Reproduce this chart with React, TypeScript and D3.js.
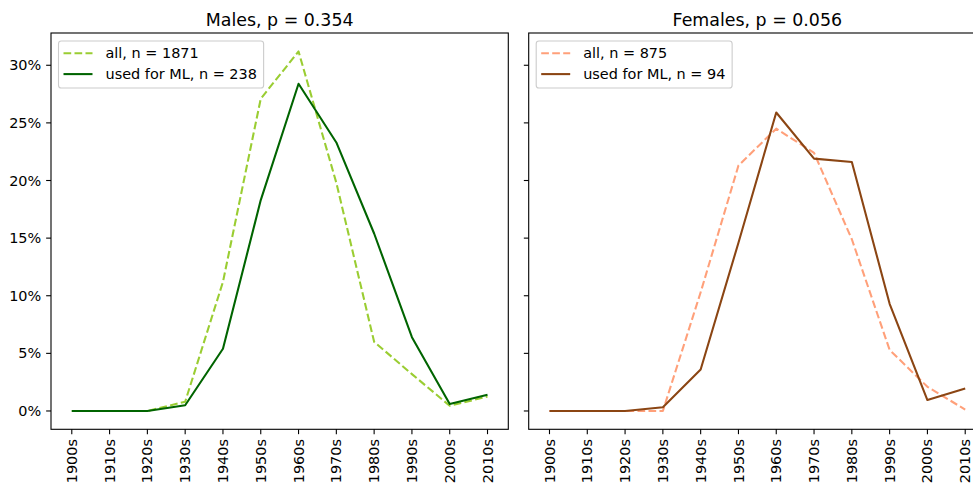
import * as d3 from 'd3';
import { useEffect, useRef } from 'react';

const decades = ['1900s', '1910s', '1920s', '1930s', '1940s', '1950s', '1960s', '1970s', '1980s', '1990s', '2000s', '2010s'];
const yTicks = [0, 5, 10, 15, 20, 25, 30];

const malesAll = [0, 0, 0, 0.8, 11.2, 27.1, 31.2, 19.8, 6.0, 3.2, 0.45, 1.25];
const malesML = [0, 0, 0, 0.5, 5.4, 18.3, 28.4, 23.3, 15.4, 6.4, 0.6, 1.4];
const femalesAll = [0, 0, 0, 0, 10.3, 21.3, 24.5, 22.4, 14.9, 5.3, 2.1, 0.12];
const femalesML = [0, 0, 0, 0.32, 3.6, 14.6, 25.9, 21.9, 21.6, 9.3, 0.95, 1.95];

const panels = [
  {
    title: 'Males, p = 0.354',
    left: 51,
    showYLabels: true,
    series: [
      { label: 'all, n = 1871', values: malesAll, color: '#9acd32', dashed: true },
      { label: 'used for ML, n = 238', values: malesML, color: '#006400', dashed: false }
    ]
  },
  {
    title: 'Females, p = 0.056',
    left: 528.7,
    showYLabels: false,
    series: [
      { label: 'all, n = 875', values: femalesAll, color: '#ffa07a', dashed: true },
      { label: 'used for ML, n = 94', values: femalesML, color: '#8b4513', dashed: false }
    ]
  }
];

function App() {
  const ref = useRef(null);

  useEffect(() => {
    const width = 973;
    const height = 486;
    const top = 33;
    const bottom = 429.3;
    const axW = 457.3;
    const font = 'DejaVu Sans, sans-serif';
    const fs = 14.45;
    const tick = 4.86;

    const svg = d3.select(ref.current);
    svg.selectAll('*').remove();
    svg.attr('width', width).attr('height', height);

    const y = d3.scaleLinear().domain([-1.59, 32.8]).range([bottom, top]);

    panels.forEach((p) => {
      const x = d3.scaleLinear().domain([-0.55, 11.55]).range([p.left, p.left + axW]);
      const g = svg.append('g');

      // lines
      const line = d3.line().x((d, i) => x(i)).y(d => y(d));
      p.series.forEach((s) => {
        g.append('path')
          .datum(s.values)
          .attr('d', line)
          .attr('fill', 'none')
          .attr('stroke', s.color)
          .attr('stroke-width', 2.08)
          .attr('stroke-linejoin', 'round')
          .attr('stroke-dasharray', s.dashed ? '7.7,3.3' : null);
      });

      // spines
      g.append('rect')
        .attr('x', p.left).attr('y', top)
        .attr('width', axW).attr('height', bottom - top)
        .attr('fill', 'none').attr('stroke', '#000').attr('stroke-width', 1.1);

      // y ticks
      yTicks.forEach((t) => {
        g.append('line')
          .attr('x1', p.left - tick).attr('x2', p.left)
          .attr('y1', y(t)).attr('y2', y(t))
          .attr('stroke', '#000').attr('stroke-width', 1.1);
        if (p.showYLabels) {
          g.append('text')
            .attr('x', p.left - tick - 4.86)
            .attr('y', y(t))
            .attr('dy', '0.35em')
            .attr('text-anchor', 'end')
            .style('font-family', font)
            .style('font-size', fs + 'px')
            .text(t + '%');
        }
      });

      // x ticks
      decades.forEach((d, i) => {
        g.append('line')
          .attr('x1', x(i)).attr('x2', x(i))
          .attr('y1', bottom).attr('y2', bottom + tick)
          .attr('stroke', '#000').attr('stroke-width', 1.1);
        g.append('text')
          .attr('transform', `translate(${x(i)},${bottom + tick + 4.86}) rotate(-90)`)
          .attr('dy', '0.35em')
          .attr('text-anchor', 'end')
          .style('font-family', font)
          .style('font-size', fs + 'px')
          .text(d);
      });

      // title
      g.append('text')
        .attr('x', p.left + axW / 2)
        .attr('y', 25.5)
        .attr('text-anchor', 'middle')
        .style('font-family', font)
        .style('font-size', '17.4px')
        .text(p.title);

      // legend
      const lg = g.append('g');
      const box = lg.append('rect');
      const bx = p.left + 7.5;
      const by = 41;
      let maxW = 0;
      p.series.forEach((s, i) => {
        const ly = 53.3 + i * 20.8;
        lg.append('line')
          .attr('x1', bx + 5).attr('x2', bx + 34)
          .attr('y1', ly).attr('y2', ly)
          .attr('stroke', s.color)
          .attr('stroke-width', 2.08)
          .attr('stroke-dasharray', s.dashed ? '7.7,3.3' : null);
        const txt = lg.append('text')
          .attr('x', bx + 47)
          .attr('y', ly)
          .attr('dy', '0.35em')
          .style('font-family', font)
          .style('font-size', fs + 'px')
          .text(s.label);
        maxW = Math.max(maxW, txt.node().getComputedTextLength());
      });
      box
        .attr('x', bx).attr('y', by)
        .attr('width', 47 + maxW + 6.7).attr('height', 47)
        .attr('rx', 2.8)
        .attr('fill', 'rgba(255,255,255,0.8)')
        .attr('stroke', '#cccccc')
        .attr('stroke-width', 1.1);
    });
  }, []);

  return (
    <div style={{ position: 'absolute', left: 0, top: 0, width: 973, height: 486, overflow: 'hidden', background: '#fff' }}>
      <svg ref={ref} style={{ display: 'block' }}></svg>
    </div>
  );
}

export default App;
